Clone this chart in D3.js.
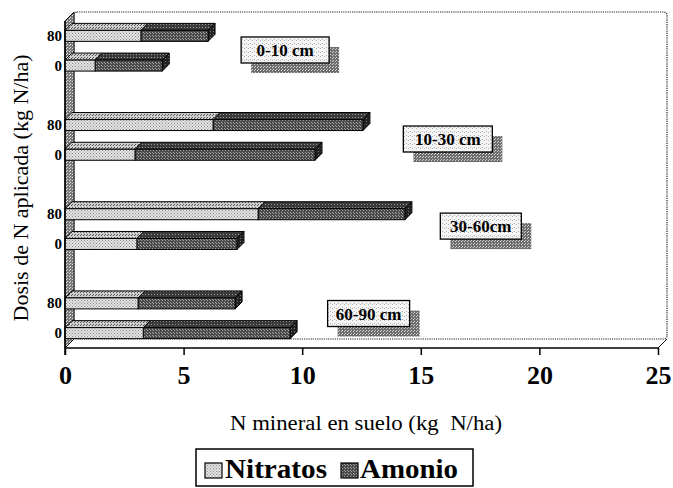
<!DOCTYPE html>
<html>
<head>
<meta charset="utf-8">
<script src="https://cdn.jsdelivr.net/npm/d3@7"></script>
<style>
  html, body { margin: 0; padding: 0; background: #fff; }
  svg { display: block; }
</style>
</head>
<body>
<svg id="chart" width="673" height="488"></svg>
<script>
// ---------- data ----------
const depths = ["0-10 cm", "10-30 cm", "30-60cm", "60-90 cm"];
const doses = ["80", "0"];
const nitratos = [3.2, 1.27, 6.24, 2.95, 8.14, 3.03, 3.08, 3.3];   // order: depth x dose
const amonio   = [2.83, 2.83, 6.32, 7.59, 6.19, 4.22, 4.09, 6.19];
const xTicks = [0, 5, 10, 15, 20, 25];
const seriesNames = ["Nitratos", "Amonio"];
// label annotations (x centre in data units, y centre in slot units)
const labelX = [9.28, 16.14, 17.53, 12.8];
const labelSlot = [0.975, 3.97, 6.9, 9.84];
const labelW = [88, 89, 81, 82];

// ---------- layout ----------
const svg = d3.select("#chart");
const FONT = "'Liberation Serif'";
const x0 = 65, x1 = 658;
const yTop = 21, yBot = 348;
const nSlots = 11;
const wallD = 9;
const barD = 7;
const barH = 11;

const x = d3.scaleLinear().domain([0, 25]).range([x0, x1]);
const slot = d3.scaleLinear().domain([0, nSlots]).range([yTop, yBot]);

const rows = [];
depths.forEach((d, gi) => {
  doses.forEach((dose, di) => {
    const i = gi * 2 + di;
    rows.push({ depth: d, dose, slot: gi * 3 + di, n: nitratos[i], a: amonio[i] });
  });
});

// ---------- patterns ----------
const defs = svg.append("defs");
function stipple(id, bg, dot, size, dots) {
  const p = defs.append("pattern").attr("id", id).attr("patternUnits", "userSpaceOnUse")
    .attr("width", size).attr("height", size);
  p.append("rect").attr("width", size).attr("height", size).attr("fill", bg);
  dots.forEach(([cx, cy]) => p.append("rect").attr("x", cx).attr("y", cy)
    .attr("width", 1).attr("height", 1).attr("fill", dot));
}
stipple("pN", "#e4e4e4", "#8a8a8a", 3, [[0, 0], [1.5, 1.5]]);
stipple("pNtop", "#cfcfcf", "#555", 3, [[0, 0], [2, 1]]);
stipple("pA", "#4a4a4a", "#a8a8a8", 3, [[0, 0], [2, 2]]);
stipple("pAtop", "#3a3a3a", "#9a9a9a", 3, [[1, 0]]);
stipple("pEnd", "#222", "#777", 3, [[0, 1]]);
stipple("pWall", "#7a7a7a", "#e0e0e0", 3, [[0, 0], [1, 2]]);
stipple("pBox", "#f4f4f4", "#b0b0b0", 4, [[0, 0], [2, 3]]);
stipple("pShadow", "#6e6e6e", "#d0d0d0", 3, [[0, 0], [2, 1]]);

function txt(sel) {
  return sel.style("font-family", FONT).attr("fill", "#000");
}

// ---------- 3D frame ----------
const g = svg.append("g");
g.append("rect")
  .attr("x", x0 + wallD).attr("y", yTop - wallD)
  .attr("width", 667 - (x0 + wallD)).attr("height", yBot - yTop)
  .attr("rx", 3).attr("fill", "#fff")
  .attr("stroke", "#222").attr("stroke-width", 1.2).attr("stroke-dasharray", "1.2,1");
g.append("path")
  .attr("d", `M${x0},${yTop} L${x0 + wallD},${yTop - wallD} L${x0 + wallD},${yBot - wallD} L${x0},${yBot} Z`)
  .attr("fill", "url(#pWall)").attr("stroke", "#111").attr("stroke-width", 1);
g.append("line").attr("x1", x1).attr("y1", yBot).attr("x2", x1 + wallD).attr("y2", yBot - wallD)
  .attr("stroke", "#111");

// ---------- bars ----------
function box3d(sel, xa, xb, yc, front, top, end) {
  const yf0 = yc - barH / 2, yf1 = yc + barH / 2;
  sel.append("path")
    .attr("d", `M${xa},${yf0} L${xa + barD},${yf0 - barD} L${xb + barD},${yf0 - barD} L${xb},${yf0} Z`)
    .attr("fill", `url(#${top})`).attr("stroke", "#000").attr("stroke-width", 1);
  if (end) {
    sel.append("path")
      .attr("d", `M${xb},${yf0} L${xb + barD},${yf0 - barD} L${xb + barD},${yf1 - barD} L${xb},${yf1} Z`)
      .attr("fill", `url(#${end})`).attr("stroke", "#000").attr("stroke-width", 1);
  }
  sel.append("rect").attr("x", xa).attr("y", yf0).attr("width", xb - xa).attr("height", barH)
    .attr("fill", `url(#${front})`).attr("stroke", "#000").attr("stroke-width", 1);
}
const bars = g.append("g");
rows.forEach(r => {
  const yc = slot(r.slot + 0.5);
  const bg = bars.append("g");
  box3d(bg, x(r.n), x(r.n + r.a), yc, "pA", "pAtop", "pEnd");
  box3d(bg, x(0), x(r.n), yc, "pN", "pNtop", null);
});

// ---------- axes ----------
const xAxis = d3.axisBottom(x).tickValues(xTicks).tickSize(7).tickFormat(d3.format("d"));
const ax = svg.append("g").attr("transform", `translate(0,${yBot})`).call(xAxis);
ax.select(".domain").attr("stroke", "#000").attr("stroke-width", 1.5).attr("d", `M${x0},0H${x1}`);
ax.selectAll(".tick line").attr("stroke", "#000").attr("stroke-width", 1.5);
txt(ax.selectAll(".tick text")).attr("dy", "0").attr("y", 36)
  .style("font-size", "26px").style("font-weight", "bold");
svg.append("line").attr("x1", x0).attr("y1", yTop).attr("x2", x0).attr("y2", yBot + 7)
  .attr("stroke", "#000").attr("stroke-width", 1.5);

txt(svg.append("g").selectAll("text").data(rows).join("text"))
  .attr("x", x0 - 3).attr("y", r => slot(r.slot + 0.5) + 5)
  .attr("text-anchor", "end")
  .style("font-size", "15px").style("font-weight", "bold")
  .text(r => r.dose);

// ---------- depth labels ----------
const lab = svg.append("g");
depths.forEach((d, i) => {
  const cx = x(labelX[i]), cy = slot(labelSlot[i]);
  const w = labelW[i], h = 26;
  lab.append("rect").attr("x", cx - w / 2 + 10).attr("y", cy - h / 2 + 10)
    .attr("width", w).attr("height", h).attr("fill", "url(#pShadow)");
  lab.append("rect").attr("x", cx - w / 2).attr("y", cy - h / 2)
    .attr("width", w).attr("height", h).attr("fill", "url(#pBox)")
    .attr("stroke", "#000").attr("stroke-width", 1.3);
  txt(lab.append("text")).attr("x", cx).attr("y", cy + 6).attr("text-anchor", "middle")
    .style("font-size", "17px").style("font-weight", "bold").text(d);
});

// ---------- titles ----------
txt(svg.append("text"))
  .attr("transform", `translate(28,${188}) rotate(-90)`)
  .attr("text-anchor", "middle")
  .attr("textLength", 267).attr("lengthAdjust", "spacingAndGlyphs")
  .style("font-size", "21px")
  .text("Dosis de N aplicada (kg N/ha)");

txt(svg.append("text"))
  .attr("x", 366).attr("y", 430).attr("text-anchor", "middle")
  .attr("textLength", 272).attr("lengthAdjust", "spacingAndGlyphs")
  .style("font-size", "20px").style("white-space", "pre")
  .text("N mineral en suelo (kg  N/ha)");

// ---------- legend ----------
const lg = svg.append("g");
lg.append("rect").attr("x", 196).attr("y", 449).attr("width", 277).attr("height", 37)
  .attr("fill", "#fff").attr("stroke", "#000").attr("stroke-width", 1.5);
const legItems = [
  { name: seriesNames[0], fill: "url(#pN)", sx: 205, tx: 225, tw: 102 },
  { name: seriesNames[1], fill: "url(#pA)", sx: 341, tx: 360, tw: 98 }
];
legItems.forEach(it => {
  lg.append("rect").attr("x", it.sx).attr("y", 463).attr("width", 17).attr("height", 15)
    .attr("fill", it.fill).attr("stroke", "#000").attr("stroke-width", 1.2);
  txt(lg.append("text")).attr("x", it.tx).attr("y", 478)
    .attr("textLength", it.tw).attr("lengthAdjust", "spacingAndGlyphs")
    .style("font-size", "27px").style("font-weight", "bold").text(it.name);
});
</script>
</body>
</html>
